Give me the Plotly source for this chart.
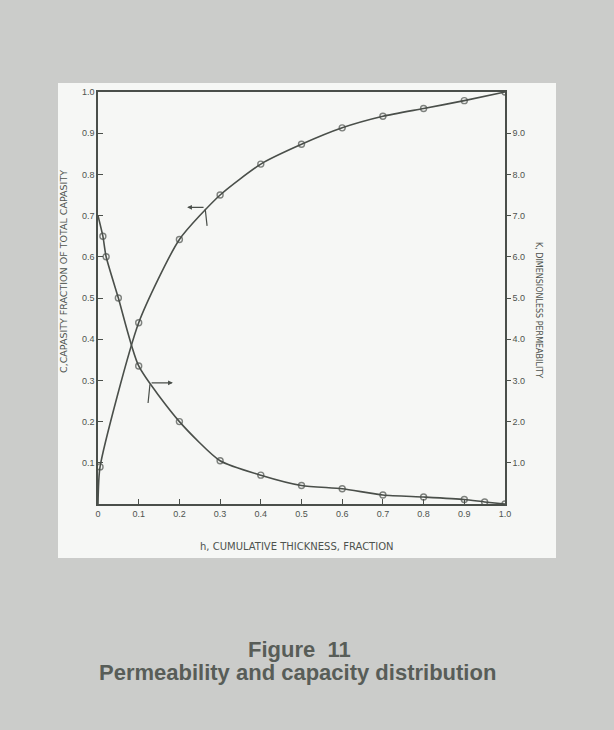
import plotly.graph_objects as go

# Capacity curve C (left axis, fraction)
h_c = [0.0, 0.005, 0.1, 0.2, 0.3, 0.4, 0.5, 0.6, 0.7, 0.8, 0.9, 1.0]
cap = [0.0, 0.09, 0.44, 0.642, 0.75, 0.825, 0.873, 0.913, 0.941, 0.96, 0.979, 1.0]
cap_marker = [0, 6, 6, 6, 6, 6, 6, 6, 6, 6, 6, 6]

# Dimensionless permeability curve K (right axis)
h_k = [0.0, 0.012, 0.02, 0.05, 0.1, 0.2, 0.3, 0.4, 0.5, 0.6, 0.7, 0.8, 0.9, 0.95, 1.0]
perm = [7.0, 6.5, 6.0, 5.0, 3.35, 2.0, 1.05, 0.70, 0.45, 0.37, 0.22, 0.17, 0.11, 0.05, 0.0]
perm_marker = [0, 6, 6, 6, 6, 6, 6, 6, 6, 6, 6, 6, 6, 6, 6]

x_ticks = [0, 0.1, 0.2, 0.3, 0.4, 0.5, 0.6, 0.7, 0.8, 0.9, 1.0]
x_labels = ["0", "0.1", "0.2", "0.3", "0.4", "0.5", "0.6", "0.7", "0.8", "0.9", "1.0"]
yl_ticks = [0.1, 0.2, 0.3, 0.4, 0.5, 0.6, 0.7, 0.8, 0.9, 1.0]
yl_labels = ["0.1", "0.2", "0.3", "0.4", "0.5", "0.6", "0.7", "0.8", "0.9", "1.0"]
yr_ticks = [1, 2, 3, 4, 5, 6, 7, 8, 9]
yr_labels = ["1.0", "2.0", "3.0", "4.0", "5.0", "6.0", "7.0", "8.0", "9.0"]

INK = "#4a4f4a"
TXT = "#4e534e"
CAP = "#585d58"
FONT = "Liberation Sans"
TFONT = "DejaVu Sans"

fig = go.Figure()
fig.add_trace(go.Scatter(
    x=h_c, y=cap, mode="lines+markers", yaxis="y",
    line=dict(color=INK, width=1.6, shape="spline", smoothing=0.6),
    marker=dict(symbol="circle-open", size=cap_marker, color=INK, line=dict(width=1.4)),
    showlegend=False, hoverinfo="skip"))
fig.add_trace(go.Scatter(
    x=h_k, y=perm, mode="lines+markers", yaxis="y2",
    line=dict(color=INK, width=1.6, shape="spline", smoothing=0.6),
    marker=dict(symbol="circle-open", size=perm_marker, color=INK, line=dict(width=1.4)),
    showlegend=False, hoverinfo="skip"))

# plot-area pixel frame
x0p, x1p = 98, 505
y0p, y1p = 92, 504
def px_x(p):
    return (p - x0p) / (x1p - x0p)
def px_y(p):
    return (y1p - p) / (y1p - y0p)

# white card behind chart
fig.add_shape(type="rect", xref="paper", yref="paper",
              x0=px_x(58), x1=px_x(556), y0=px_y(558), y1=px_y(83),
              fillcolor="#f6f7f5", line=dict(width=0), layer="below")

def label(text, x, y, size, color=TXT, family=TFONT, angle=0):
    return dict(text=text, textangle=angle, xref="paper", yref="paper",
                x=px_x(x), y=px_y(y), xanchor="center", yanchor="middle",
                showarrow=False, font=dict(family=family, size=size, color=color))

annotations = [
    # pointer arrows
    dict(x=0.219, y=0.72, ax=0.263, ay=0.72, xref="x", yref="y", axref="x", ayref="y",
         showarrow=True, arrowhead=2, arrowsize=0.8, arrowwidth=1.2, arrowcolor=INK, text=""),
    dict(x=0.268, y=0.675, ax=0.263, ay=0.72, xref="x", yref="y", axref="x", ayref="y",
         showarrow=True, arrowhead=0, arrowwidth=1.2, arrowcolor=INK, text=""),
    dict(x=0.184, y=0.294, ax=0.128, ay=0.294, xref="x", yref="y", axref="x", ayref="y",
         showarrow=True, arrowhead=2, arrowsize=0.8, arrowwidth=1.2, arrowcolor=INK, text=""),
    dict(x=0.123, y=0.245, ax=0.128, ay=0.294, xref="x", yref="y", axref="x", ayref="y",
         showarrow=True, arrowhead=0, arrowwidth=1.2, arrowcolor=INK, text=""),
    # axis titles
    label("C,CAPASITY FRACTION OF TOTAL CAPASITY", 63, 272, 9.5, angle=-90),
    label("K, DIMENSIONLESS PERMEABILITY", 539, 310, 8, angle=90),
    label("h, CUMULATIVE THICKNESS, FRACTION", 297, 546, 10),
    # caption
    label("<b>Figure  11</b>", 299, 649, 22, color=CAP, family=FONT),
    label("<b>Permeability and capacity distribution</b>", 297, 672, 22, color=CAP, family=FONT),
]

fig.update_layout(
    width=614, height=730,
    margin=dict(l=x0p, r=614 - x1p, t=y0p, b=730 - y1p),
    paper_bgcolor="#cbccca", plot_bgcolor="rgba(0,0,0,0)",
    annotations=annotations,
    xaxis=dict(range=[0, 1.0], tickvals=x_ticks, ticktext=x_labels,
               showline=True, linecolor=INK, linewidth=1.6, mirror=True,
               ticks="inside", ticklen=5, tickcolor=INK, showgrid=False, zeroline=False,
               tickfont=dict(family=FONT, size=9, color=TXT)),
    yaxis=dict(range=[0, 1.0], tickvals=yl_ticks, ticktext=yl_labels,
               showline=True, linecolor=INK, linewidth=1.6,
               ticks="inside", ticklen=5, tickcolor=INK, showgrid=False, zeroline=False,
               tickfont=dict(family=FONT, size=9, color=TXT)),
    yaxis2=dict(range=[0, 10], tickvals=yr_ticks, ticktext=yr_labels,
                overlaying="y", side="right",
                showline=True, linecolor=INK, linewidth=1.6,
                ticks="outside", ticklen=4, tickcolor=INK, showgrid=False, zeroline=False,
                tickfont=dict(family=FONT, size=9, color=TXT)),
)

fig.write_html("out.html", config={"displayModeBar": False},
               post_script="document.body.style.margin='0';")
